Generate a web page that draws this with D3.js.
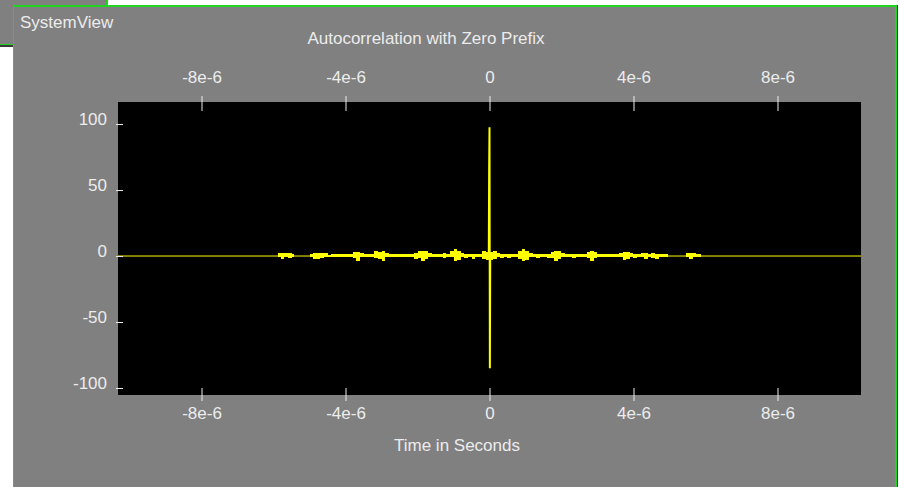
<!DOCTYPE html>
<html><head><meta charset="utf-8">
<script src="https://cdn.jsdelivr.net/npm/d3@7"></script>
<style>
html,body{margin:0;padding:0;background:#fff;overflow:hidden;}
svg{display:block;font-family:"Liberation Sans",Arial,sans-serif;}
</style></head>
<body>
<svg id="c" width="900" height="487"></svg>
<script>
// ---- data ----
const title = "Autocorrelation with Zero Prefix";
const xLabel = "Time in Seconds";
const xTicks = [-8e-6, -4e-6, 0, 4e-6, 8e-6];
const xTickLabels = ["-8e-6", "-4e-6", "0", "4e-6", "8e-6"];
const yTicks = [100, 50, 0, -50, -100];
const yTickLabels = ["100", "50", "0", "-50", "-100"];
// central correlation peak (time in microseconds, value)
const spikeT = [-0.02, -0.01, 0.0, 0.01, 0.02];
const spikeV = [1.5, 63.6, 97.5, -85, 1.0];
// sidelobe noise envelope per time span (microseconds): max / min of the signal
const noiseStart = [-5.88,-5.8,-5.7,-5.6,-5.5,-5.0,-4.9,-4.8,-4.7,-4.6,-4.5,-4.4,-4.1,-3.8,-3.7,-3.6,-3.5,-3.2,-3.1,-3.0,-2.9,-2.8,-2.1,-2.0,-1.9,-1.8,-1.7,-1.6,-1.3,-1.2,-1.1,-1.0,-0.9,-0.8,-0.7,-0.6,-0.5,-0.4,-0.3,-0.2,-0.1,0.0,0.1,0.2,0.3,0.4,0.5,0.6,0.8,0.9,1.0,1.1,1.2,1.3,1.4,1.5,1.6,1.7,1.8,1.9,2.0,2.1,2.3,2.4,2.7,2.8,2.9,3.0,3.1,3.6,3.7,3.8,3.9,4.0,4.1,4.2,4.3,4.4,4.5,4.6,4.7,4.8,5.45,5.55,5.65,5.75];
const noiseEnd   = [-5.8,-5.7,-5.6,-5.5,-5.43,-4.9,-4.8,-4.7,-4.6,-4.5,-4.4,-4.1,-3.8,-3.7,-3.6,-3.5,-3.2,-3.1,-3.0,-2.9,-2.8,-2.1,-2.0,-1.9,-1.8,-1.7,-1.6,-1.3,-1.2,-1.1,-1.0,-0.9,-0.8,-0.7,-0.6,-0.5,-0.4,-0.3,-0.2,-0.1,0.0,0.1,0.2,0.3,0.4,0.5,0.6,0.8,0.9,1.0,1.1,1.2,1.3,1.4,1.5,1.6,1.7,1.8,1.9,2.0,2.1,2.3,2.4,2.7,2.8,2.9,3.0,3.1,3.6,3.7,3.8,3.9,4.0,4.1,4.2,4.3,4.4,4.5,4.6,4.7,4.8,4.95,5.55,5.65,5.75,5.87];
const noiseMax   = [2.0,2.5,2.2,2.0,1.8,1.5,2.5,2.2,2.0,2.0,0.5,1.2,1.8,3.0,3.0,2.0,1.8,3.6,3.2,3.6,2.0,1.8,2.0,4.0,4.0,3.5,2.0,1.8,2.0,1.8,3.5,5.3,4.0,2.0,1.5,1.5,1.5,1.5,1.8,3.6,3.0,3.0,3.6,2.0,1.5,1.5,1.5,1.8,3.5,5.3,4.0,2.5,1.5,1.5,1.5,1.5,1.8,3.0,4.0,3.5,2.0,1.5,1.5,1.5,3.0,3.8,3.0,1.8,1.5,2.0,3.3,3.0,2.0,1.8,1.8,2.3,2.0,1.8,2.2,1.8,1.8,1.8,2.3,2.0,2.0,1.8];
const noiseMin   = [-0.6,-2.5,-1.0,-1.8,-0.6,-0.5,-2.0,-2.0,-1.5,-1.0,-0.4,-0.5,-0.6,-1.5,-3.5,-1.0,-0.5,-1.5,-2.0,-3.5,-0.8,-0.5,-2.0,-1.5,-3.6,-2.0,-0.8,-0.6,-1.8,-0.6,-1.0,-3.6,-3.0,-0.8,-1.5,-0.6,-2.0,-1.0,-0.6,-2.0,-3.0,-3.0,-2.5,-0.6,-1.5,-0.6,-1.5,-0.6,-2.0,-3.6,-3.0,-1.0,-0.6,-1.8,-0.6,-1.0,-1.5,-1.5,-3.6,-2.0,-1.0,-0.6,-1.5,-0.6,-1.5,-3.6,-1.5,-0.6,-0.6,-1.0,-3.0,-2.5,-0.8,-1.5,-0.6,-1.0,-2.0,-0.6,-1.5,-2.5,-1.0,-0.6,-0.6,-2.5,-1.0,-0.6];

// ---- drawing ----
const svg = d3.select("#c");
const GRAY = "#808080", GREEN = "#22d422", TXT = "#ececec", YEL = "#ffff00";
const FS = "17px";

// background window
svg.append("rect").attr("x",0).attr("y",0).attr("width",107).attr("height",45).attr("fill",GRAY);
svg.append("rect").attr("x",0).attr("y",45).attr("width",108).attr("height",2).attr("fill","#3a3a3a");
svg.append("line").attr("x1",107).attr("x2",107).attr("y1",0).attr("y2",45).attr("stroke",GREEN).attr("stroke-width",2);
svg.append("line").attr("x1",0).attr("x2",108).attr("y1",44.5).attr("y2",44.5).attr("stroke",GREEN).attr("stroke-width",1);

// main window
svg.append("rect").attr("x",13).attr("y",5).attr("width",885).attr("height",490).attr("fill","#3a3a3a");
svg.append("rect").attr("x",13).attr("y",5).attr("width",884).attr("height",490).attr("fill",GREEN);
svg.append("rect").attr("x",14).attr("y",7).attr("width",881).attr("height",490).attr("fill",GRAY);

svg.append("text").attr("x",20).attr("y",28).attr("fill",TXT).style("font-size",FS).text("SystemView");

const L=118, R=861, T=102, B=395;
svg.append("rect").attr("x",L).attr("y",T).attr("width",R-L).attr("height",B-T).attr("fill","#000");

const x = d3.scaleLinear().domain([-10.32e-6, 10.32e-6]).range([L, R]);
const y = d3.scaleLinear().domain([-105.3, 116.7]).range([B, T]);
const us = 1e-6;

// zero line
svg.append("line").attr("x1",L).attr("x2",R).attr("y1",y(0)).attr("y2",y(0))
  .attr("stroke",YEL).attr("stroke-width",1);

// noise envelope
const noise = noiseStart.map((s,i)=>({s, e:noiseEnd[i], hi:noiseMax[i], lo:noiseMin[i]}));
svg.append("g").selectAll("rect").data(noise).join("rect")
  .attr("x",d=>x(d.s*us)).attr("width",d=>x(d.e*us)-x(d.s*us))
  .attr("y",d=>y(d.hi)).attr("height",d=>y(d.lo)-y(d.hi))
  .attr("fill",YEL).attr("shape-rendering","crispEdges");

// spike
const spike = spikeT.map((t,i)=>[t*us, spikeV[i]]);
svg.append("path").datum(spike)
  .attr("d", d3.line().x(d=>x(d[0])).y(d=>y(d[1])))
  .attr("fill","none").attr("stroke",YEL).attr("stroke-width",2);

// axes
function styleAxis(g){
  g.select(".domain").remove();
  g.selectAll("line").attr("stroke",TXT);
  g.selectAll("text").attr("fill",TXT).style("font-size",FS).style("font-family","Liberation Sans, Arial, sans-serif");
}
const fmtX = (d,i)=>xTickLabels[i];
const gTop = svg.append("g").attr("transform",`translate(0,111)`)
  .call(d3.axisTop(x).tickValues(xTicks).tickFormat(fmtX).tickSizeInner(15).tickSizeOuter(0));
styleAxis(gTop);
gTop.selectAll("text").attr("y",-28).attr("dy","0");

const gBot = svg.append("g").attr("transform",`translate(0,388)`)
  .call(d3.axisBottom(x).tickValues(xTicks).tickFormat(fmtX).tickSizeInner(13).tickSizeOuter(0));
styleAxis(gBot);
gBot.selectAll("text").attr("y",30.5).attr("dy","0");

const gLeft = svg.append("g").attr("transform",`translate(123,0)`)
  .call(d3.axisLeft(y).tickValues(yTicks).tickFormat((d,i)=>yTickLabels[i]).tickSizeInner(7).tickSizeOuter(0));
styleAxis(gLeft);
gLeft.selectAll("text").attr("x",-16).attr("dy","0").attr("y",0.5);

// titles
svg.append("text").attr("x",426).attr("y",44).attr("text-anchor","middle").attr("fill",TXT).style("font-size",FS).text(title);
svg.append("text").attr("x",457).attr("y",451).attr("text-anchor","middle").attr("fill",TXT).style("font-size",FS).text(xLabel);
</script>
</body></html>
